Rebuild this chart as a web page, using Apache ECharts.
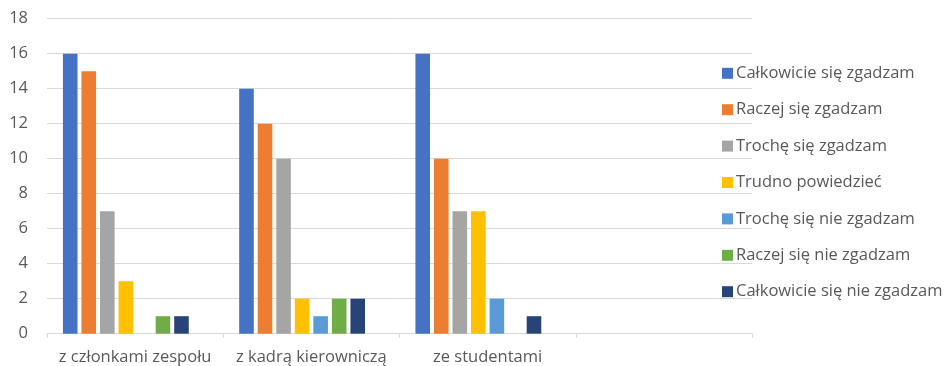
<!DOCTYPE html>
<html>
<head>
<meta charset="utf-8">
<script src="https://cdn.jsdelivr.net/npm/echarts@6/dist/echarts.min.js"></script>
<style>
html,body{margin:0;padding:0;background:#fff;}
#chart{width:948px;height:366px;}
</style>
</head>
<body>
<div id="chart"></div>
<script>
const categories = ['z członkami zespołu', 'z kadrą kierowniczą', 'ze studentami', ''];
const seriesNames = ['Całkowicie się zgadzam', 'Raczej się zgadzam', 'Trochę się zgadzam', 'Trudno powiedzieć', 'Trochę się nie zgadzam', 'Raczej się nie zgadzam', 'Całkowicie się nie zgadzam'];
const calkowicieZgadzam = [16, 14, 16, null];
const raczejZgadzam = [15, 12, 10, null];
const trocheZgadzam = [7, 10, 7, null];
const trudnoPowiedziec = [3, 2, 7, null];
const trocheNieZgadzam = [0, 1, 2, null];
const raczejNieZgadzam = [1, 2, 0, null];
const calkowicieNieZgadzam = [1, 2, 1, null];
const emptySeries = [null, null, null, null];
const yTicks = { min: 0, max: 18, interval: 2 };

const colors = ['#4472C4', '#ED7D31', '#A5A5A5', '#FFC000', '#5B9BD5', '#70AD47', '#264478', '#9E480E'];
const values = [calkowicieZgadzam, raczejZgadzam, trocheZgadzam, trudnoPowiedziec, trocheNieZgadzam, raczejNieZgadzam, calkowicieNieZgadzam, emptySeries];
const names = seriesNames.concat(['_empty']);
const FONT = '"Open Sans", "Noto Sans", sans-serif';

const chart = echarts.init(document.getElementById('chart'), null, { renderer: 'canvas' });
chart.setOption({
  animation: false,
  backgroundColor: '#ffffff',
  grid: { left: 47, right: 196, top: 18.7, bottom: 32.3, containLabel: false },
  legend: {
    data: seriesNames,
    orient: 'vertical',
    left: 722,
    top: 63.3,
    padding: 0,
    itemWidth: 11,
    itemHeight: 11,
    itemGap: 16.4,
    icon: 'rect',
    textStyle: { fontFamily: FONT, fontSize: 16.5, color: '#595959', lineHeight: 20, padding: [0, 0, 0, -2] }
  },
  xAxis: {
    type: 'category',
    data: categories,
    boundaryGap: true,
    axisLine: { show: true, lineStyle: { color: '#D9D9D9', width: 1 } },
    axisTick: { show: true, alignWithLabel: false, length: 4, lineStyle: { color: '#D9D9D9' } },
    axisLabel: { fontFamily: FONT, fontSize: 16.5, color: '#595959', margin: 15, interval: 0 },
    splitLine: { show: false }
  },
  yAxis: {
    type: 'value',
    min: yTicks.min,
    max: yTicks.max,
    interval: yTicks.interval,
    axisLine: { show: false },
    axisTick: { show: false },
    axisLabel: { fontFamily: FONT, fontSize: 16.5, color: '#595959', margin: 19 },
    splitLine: { show: true, lineStyle: { color: '#D9D9D9', width: 1 } }
  },
  series: values.map((d, i) => ({
    name: names[i],
    type: 'bar',
    data: d,
    barWidth: 14.6,
    barGap: '27%',
    itemStyle: { color: colors[i] }
  }))
});
</script>
</body>
</html>
